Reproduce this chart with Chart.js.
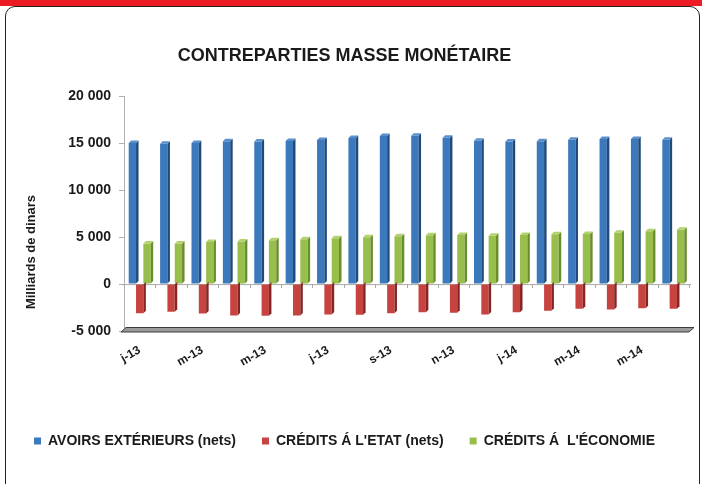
<!DOCTYPE html>
<html><head><meta charset="utf-8">
<script src="https://cdn.jsdelivr.net/npm/chart.js@4.4.0/dist/chart.umd.min.js"></script>
<style>
html,body{margin:0;padding:0;background:#fff;}
#wrap{position:relative;width:702px;height:484px;overflow:hidden;}
#band{position:absolute;left:0;top:0;width:702px;height:6px;background:#ED1C24;}
#frame{position:absolute;left:5px;top:6px;width:695px;height:500px;border:1.3px solid #222;border-radius:10px;box-sizing:border-box;}
canvas{position:absolute;left:0;top:0;}
</style></head>
<body><div id="wrap"><div id="band"></div><div id="frame"></div><canvas id="c" width="702" height="484"></canvas></div>
<script>
const categories = ['j-13','f-13','m-13','a-13','m-13','j-13','j-13','a-13','s-13','o-13','n-13','d-13','j-14','f-14','m-14','a-14','m-14','j-14'];
const avoirsExterieurs = [15050,14980,15050,15230,15200,15260,15360,15580,15790,15830,15620,15300,15200,15230,15410,15470,15470,15410];
const creditsEtat = [-3100,-2950,-3130,-3340,-3380,-3340,-3240,-3270,-3100,-3000,-3060,-3240,-3000,-2850,-2640,-2710,-2570,-2640];
const creditsEconomie = [4330,4330,4500,4540,4680,4780,4890,4990,5100,5210,5240,5170,5240,5310,5340,5490,5630,5810];
const seriesNames = ['AVOIRS EXTÉRIEURS (nets)', "CRÉDITS Á L'ETAT (nets)", "CRÉDITS Á  L'ÉCONOMIE"];
const yTicks = [-5000,0,5000,10000,15000,20000];
const chartTitle = 'CONTREPARTIES MASSE MONÉTAIRE';
const yTitle = 'Milliards de dinars';

const FONT = "'Liberation Sans', Arial, sans-serif";
const fmt = v => String(v).replace(/\B(?=(\d{3})+(?!\d))/g, ' ');

const deco = {
  id: 'deco',
  beforeDatasetsDraw(chart) {
    const {ctx, chartArea: a, scales: {y}} = chart;
    const y0 = y.getPixelForValue(0);
    const yF = a.bottom;
    ctx.save();
    ctx.beginPath();
    ctx.moveTo(a.left - 3, yF + 1);
    ctx.lineTo(a.left + 2, yF - 3.5);
    ctx.lineTo(a.right + 5, yF - 3.5);
    ctx.lineTo(a.right, yF + 1);
    ctx.closePath();
    ctx.fillStyle = '#9a9a9a';
    ctx.fill();
    ctx.lineWidth = 1;
    ctx.strokeStyle = '#3c3c3c';
    ctx.stroke();
    ctx.strokeStyle = '#a8a8a8';
    ctx.beginPath();
    ctx.moveTo(a.left - 2, y0 + 0.5);
    ctx.lineTo(a.right + 2, y0 + 0.5);
    const n = categories.length;
    const step = (a.right - a.left) / n;
    for (let i = 0; i <= n; i++) {
      const xx = Math.round(a.left + i * step) + 0.5;
      ctx.moveTo(xx, y0);
      ctx.lineTo(xx, y0 + 4);
    }
    ctx.stroke();
    ctx.restore();
  },
  afterDatasetsDraw(chart) {
    const ctx = chart.ctx;
    const d = 2.5;
    ctx.save();
    chart.data.datasets.forEach((ds, i) => {
      const meta = chart.getDatasetMeta(i);
      meta.data.forEach(bar => {
        const {x, y, base, width} = bar.getProps(['x', 'y', 'base', 'width'], true);
        const l = x - width / 2, r = x + width / 2;
        const top = Math.min(y, base), bot = Math.max(y, base);
        ctx.fillStyle = ds.sideColor;
        ctx.beginPath();
        ctx.moveTo(r, top); ctx.lineTo(r + d, top - d); ctx.lineTo(r + d, bot - d); ctx.lineTo(r, bot);
        ctx.closePath(); ctx.fill();
        if (y < base) {
          ctx.fillStyle = ds.topColor;
          ctx.beginPath();
          ctx.moveTo(l, top); ctx.lineTo(l + d, top - d); ctx.lineTo(r + d, top - d); ctx.lineTo(r, top);
          ctx.closePath(); ctx.fill();
        }
      });
    });
    ctx.restore();
  },
  afterDraw(chart) {
    const ctx = chart.ctx;
    ctx.save();
    ctx.translate(31, 252);
    ctx.rotate(-Math.PI / 2);
    ctx.font = 'bold 13px ' + FONT;
    ctx.fillStyle = '#1a1a1a';
    ctx.textAlign = 'center';
    ctx.textBaseline = 'middle';
    ctx.fillText(yTitle, 0, 0);
    ctx.restore();
  }
};

new Chart(document.getElementById('c'), {
  type: 'bar',
  data: {
    labels: categories,
    datasets: [
      {label: seriesNames[0], data: avoirsExterieurs, backgroundColor: '#3C78BC', sideColor: '#1E4A7C', topColor: '#5A8FCC', borderWidth: 0},
      {label: seriesNames[1], data: creditsEtat, backgroundColor: '#C6433F', sideColor: '#862523', topColor: '#D66662', borderWidth: 0},
      {label: seriesNames[2], data: creditsEconomie, backgroundColor: '#98BE4C', sideColor: '#6A8E2C', topColor: '#B2D26E', borderWidth: 0}
    ]
  },
  options: {
    responsive: false,
    animation: false,
    events: [],
    layout: {padding: {left: 0, right: 13, top: 1, bottom: 26}},
    datasets: {bar: {categoryPercentage: 0.70, barPercentage: 1.0}},
    plugins: {
      title: {
        display: true, text: chartTitle, color: '#1a1a1a',
        font: {family: FONT, size: 18, weight: 'bold'},
        padding: {top: 44, bottom: 30}
      },
      legend: {
        position: 'bottom',
        labels: {
          color: '#1a1a1a', boxWidth: 7, boxHeight: 7, padding: 26,
          font: {family: FONT, size: 14, weight: 'bold'}
        }
      },
      tooltip: {enabled: false}
    },
    scales: {
      x: {
        grid: {display: false},
        border: {display: false},
        ticks: {
          autoSkip: false, minRotation: 30, maxRotation: 30, padding: 4,
          color: '#1a1a1a', font: {family: FONT, size: 12, weight: 'bold'},
          callback: function (v, i) { return i % 2 === 0 ? this.getLabelForValue(v) : ''; }
        },
        afterFit(s) { s.height = 77; }
      },
      y: {
        min: -5000, max: 20000,
        afterBuildTicks(s) { s.ticks = yTicks.map(v => ({value: v})); },
        grid: {drawOnChartArea: false, drawTicks: true, tickLength: 5, color: '#b0b0b0'},
        border: {display: true, color: '#b0b0b0'},
        ticks: {
          padding: 8, color: '#1a1a1a',
          font: {family: FONT, size: 14, weight: 'bold'},
          callback: v => fmt(v)
        },
        afterFit(s) { s.width = 124; }
      }
    }
  },
  plugins: [deco]
});
</script>
</body></html>
